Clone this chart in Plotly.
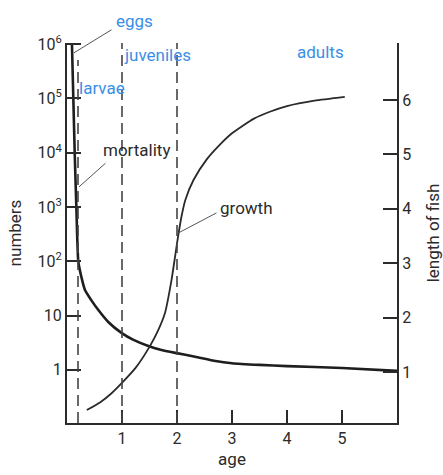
import plotly.graph_objects as go

# Mortality: numbers surviving (log scale, left axis) against age
mort_age = [0.09, 0.115, 0.14, 0.17, 0.205, 0.26, 0.327, 0.45, 0.57, 0.75,
            0.99, 1.2, 1.48, 1.7, 1.97, 2.33, 2.7, 3.0, 3.5, 4.0, 5.0, 6.0]
mort_num = [1e6, 1e5, 1e4, 1e3, 100, 52, 29.5, 18.6, 12.6, 7.6,
            4.8, 3.6, 2.75, 2.35, 2.05, 1.74, 1.45, 1.32, 1.23, 1.17, 1.08, 0.955]

# Growth: length of fish (right axis) against age
grow_age = [0.36, 0.6, 0.8, 0.99, 1.25, 1.51, 1.65, 1.78, 1.9, 2.01, 2.08, 2.15,
            2.3, 2.54, 2.75, 3.0, 3.4, 3.7, 4.0, 4.5, 5.05]
grow_len = [0.30, 0.44, 0.60, 0.79, 1.08, 1.48, 1.75, 2.08, 2.69, 3.43, 3.85, 4.16,
            4.53, 4.91, 5.15, 5.39, 5.66, 5.79, 5.89, 5.99, 6.06]

# Life-stage boundaries (age)
stage_bounds = [0.2, 1, 2]

x_ticks = [1, 2, 3, 4, 5]
num_ticks = [1, 10, 100, 1e3, 1e4, 1e5, 1e6]
num_labels = ["1", "10", "10<sup>2</sup>", "10<sup>3</sup>", "10<sup>4</sup>",
              "10<sup>5</sup>", "10<sup>6</sup>"]
len_ticks = [1, 2, 3, 4, 5, 6]

FONT = "Roboto, Liberation Sans, Arial"
INK = "#2b2b2b"
BLUE = "#3a8ee6"

fig = go.Figure()

fig.add_trace(go.Scatter(x=mort_age, y=mort_num, mode="lines",
                         line=dict(color="#1e1e1e", width=2.6, shape="spline", smoothing=0.5),
                         yaxis="y", showlegend=False, hoverinfo="skip"))
fig.add_trace(go.Scatter(x=grow_age, y=grow_len, mode="lines",
                         line=dict(color="#2a2a2a", width=1.8, shape="spline", smoothing=0.6),
                         yaxis="y2", showlegend=False, hoverinfo="skip"))

for i, b in enumerate(stage_bounds):
    fig.add_shape(type="line", xref="x", yref="paper", x0=b, x1=b,
                  y0=0, y1=0.955 if i == 0 else 1.0,
                  line=dict(color="#444", width=1.6, dash="11px,6px"))

# stage names (log axis: y given as exponent)
for txt, x, y in [("juveniles", 1.65, 5.80), ("larvae", 0.64, 5.19),
                  ("adults", 4.6, 5.86)]:
    fig.add_annotation(x=x, y=y, xref="x", yref="y", text=txt, showarrow=False,
                       font=dict(family=FONT, size=17, color=BLUE))
# "eggs" sits above the plotting area
fig.add_annotation(x=1.22, y=1.09, xref="x", yref="paper", text="eggs",
                   showarrow=False, font=dict(family=FONT, size=17, color=BLUE))

fig.add_annotation(x=1.27, y=4.05, xref="x", yref="y", text="mortality",
                   showarrow=False, font=dict(family=FONT, size=17, color=INK))
fig.add_annotation(x=3.27, y=4.01, xref="x", yref="y2", text="growth",
                   showarrow=False, font=dict(family=FONT, size=17, color=INK))

# pointer lines from labels to the curves
pointers = [
    (0.127, 5.84, 0.836, 6.28, "y"),
    (0.218, 3.37, 0.727, 3.83, "y"),
    (2.02, 3.555, 2.745, 3.94, "y2"),
]
for px, py, tx, ty, yr in pointers:
    fig.add_annotation(x=px, y=py, ax=tx, ay=ty, xref="x", yref=yr,
                       axref="x", ayref=yr, text="", showarrow=True,
                       arrowhead=0, arrowwidth=1, arrowcolor="#555")

fig.update_layout(
    width=443, height=475,
    margin=dict(l=67, r=46, t=43, b=52, autoexpand=False),
    paper_bgcolor="white", plot_bgcolor="white",
    font=dict(family=FONT, size=16, color=INK),
    xaxis=dict(range=[0, 6], tickvals=x_ticks, ticks="inside", ticklen=13,
               tickwidth=1.5, tickcolor=INK, showline=True, linecolor=INK,
               linewidth=2, showgrid=False, zeroline=False, automargin=False,
               title=dict(text="age", standoff=6, font=dict(size=17)),
               tickfont=dict(size=16)),
    yaxis=dict(type="log", range=[-0.98, 6.02], tickvals=num_ticks,
               ticktext=num_labels, ticks="inside", ticklen=14, tickwidth=1.5,
               tickcolor=INK, showline=True, linecolor=INK, linewidth=2,
               showgrid=False, zeroline=False, automargin=False,
               title=dict(text="numbers", standoff=12, font=dict(size=17)),
               tickfont=dict(size=16)),
    yaxis2=dict(overlaying="y", side="right", range=[0.0625, 7.05],
                tickvals=len_ticks, ticks="inside", ticklen=14, tickwidth=1.5,
                tickcolor=INK, showline=True, linecolor=INK, linewidth=2,
                showgrid=False, zeroline=False, automargin=False,
                title=dict(text="length of fish", standoff=20, font=dict(size=17)),
                tickfont=dict(size=16)),
)

fig.write_html("out.html")
